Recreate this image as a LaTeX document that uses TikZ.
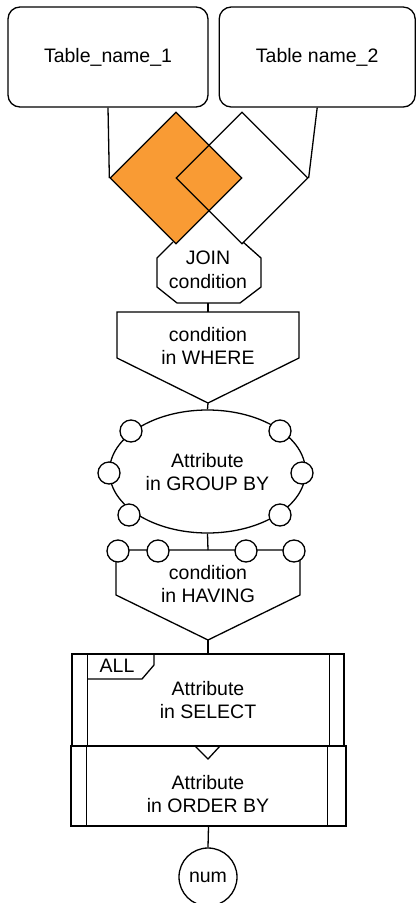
\documentclass[tikz,border=0pt]{standalone}
\usepackage{fontspec}
\setmainfont{Liberation Sans}
\usetikzlibrary{shapes.geometric}
\definecolor{joinorange}{HTML}{F99B34}

\begin{document}
\begin{tikzpicture}[x=1pt, y=-1pt, line width=1.3pt, line join=miter,
  every node/.style={font=\fontsize{19.5}{23.5}\selectfont, align=center, inner sep=0pt},
  tablebox/.style={draw, rounded corners=12pt, minimum height=100pt},
  joindiamond/.style={draw, diamond, minimum width=132pt, minimum height=132pt},
  port/.style={draw, circle, fill=white, minimum size=22pt},
  framebox/.style={draw, rectangle},
  label/.style={}]
\useasboundingbox (0,0) rectangle (416,903);

% source tables
\node[tablebox, minimum width=200pt] (t1) at (108,57) {Table\_name\_1};
\node[tablebox, minimum width=196pt] (t2) at (317.2,57) {Table name\_2};

% join diamonds
\node[joindiamond, fill=joinorange] (d1) at (176,178) {};
\node[joindiamond] (d2) at (242,178) {};
\draw (t1.south) -- (d1.west);
\draw (t2.south) -- (d2.east);

% join condition (octagon, open at the top)
\coordinate (jtl) at (173,242);
\coordinate (jtr) at (243,242);
\draw (jtl) -- (157,258) -- (157,287) -- (177,303) -- (240,303)
      -- (261,287) -- (261,258) -- (jtr);
\node[label] (join) at (208,270) {JOIN\\condition};
\coordinate (joinbot) at (208,303);

% WHERE
\coordinate (wheretop) at (208,312);
\coordinate (wheretip) at (208,403);
\draw (117,312) -- (299,312) -- (299,358) -- (wheretip) -- (117,358) -- cycle;
\node[label] (where) at (208,346) {condition\\in WHERE};
\draw (joinbot) -- (wheretop);

% GROUP BY
\node[draw, ellipse, minimum width=196pt, minimum height=123pt] (group) at (207.5,471.5) {};
\node[label] (grouptxt) at (207.5,472) {Attribute\\in GROUP BY};
\node[port] (g1) at (131,431) {};
\node[port] (g2) at (280,431) {};
\node[port] (g3) at (109,473) {};
\node[port] (g4) at (302,473) {};
\node[port] (g5) at (129,515) {};
\node[port] (g6) at (280,515) {};
\draw (wheretip) -- (group.north);

% HAVING
\coordinate (havtop) at (208,550);
\coordinate (havtip) at (208,640);
\draw (116,550) -- (300,550) -- (300,595) -- (havtip) -- (116,595) -- cycle;
\node[port] (h1) at (118,551) {};
\node[port] (h2) at (158,551) {};
\node[port] (h3) at (246,551) {};
\node[port] (h4) at (294,551) {};
\node[label] (having) at (208,584) {condition\\in HAVING};
\draw (group.south) -- (havtop);

% SELECT
\node[framebox, minimum width=272pt, minimum height=92pt] (sel) at (208,700) {};
\draw ([xshift=16pt]sel.north west) -- ([xshift=16pt]sel.south west);
\draw ([xshift=-15pt]sel.north east) -- ([xshift=-15pt]sel.south east);
\draw (88,654) -- (154,654) -- (154,665) -- (142,679) -- (88,679);
\node[label] (all) at (117,666) {ALL};
\node[label] (seltxt) at (208,700) {Attribute\\in SELECT};
\draw (havtip) -- (sel.north);

% ORDER BY
\node[framebox, minimum width=275pt, minimum height=80pt] (ord) at (208.5,786) {};
\draw ([xshift=16pt]ord.north west) -- ([xshift=16pt]ord.south west);
\draw ([xshift=-19pt]ord.north east) -- ([xshift=-19pt]ord.south east);
\draw (195,746) -- (208,759) -- (220,746);
\node[label] (ordtxt) at (208,794) {Attribute\\in ORDER BY};

% limit
\node[draw, circle, minimum size=58pt] (num) at (208,877) {num};
\draw (ord.south) -- (num.north);
\end{tikzpicture}
\end{document}
